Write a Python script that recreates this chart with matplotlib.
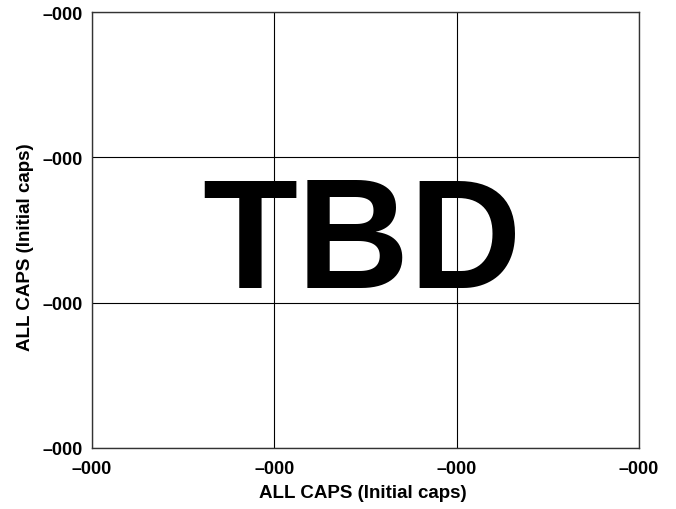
import matplotlib
matplotlib.use("Agg")
import matplotlib.pyplot as plt

# placeholder chart: every tick reads "–000"
x_ticks = [0, 1, 2, 3]
y_ticks = [0, 1, 2, 3]
x_labels = ["\u2013000"] * len(x_ticks)
y_labels = ["\u2013000"] * len(y_ticks)
x_title = "ALL CAPS (Initial caps)"
y_title = "ALL CAPS (Initial caps)"
stamp = "TBD"

plt.rcParams["font.family"] = ["Liberation Sans", "DejaVu Sans"]
plt.rcParams["font.weight"] = "bold"

fig = plt.figure(figsize=(6.76, 5.10), dpi=100)
ax = fig.add_axes([92 / 676, 61 / 510, 547 / 676, 436 / 510])

ax.set_xlim(x_ticks[0], x_ticks[-1])
ax.set_ylim(y_ticks[0], y_ticks[-1])
ax.set_xticks(x_ticks)
ax.set_yticks(y_ticks)
ax.set_xticklabels(x_labels, fontsize=13, fontweight="bold")
ax.set_yticklabels(y_labels, fontsize=13, fontweight="bold")
ax.tick_params(axis="x", length=0, pad=9)
ax.tick_params(axis="y", length=0, pad=7)
ax.grid(True, color="black", linewidth=0.8)

for s in ax.spines.values():
    s.set_linewidth(1.0)
    s.set_color("#333333")

ax.set_xlabel(x_title, fontsize=13.5, fontweight="bold", labelpad=5, x=0.496)
ax.set_ylabel(y_title, fontsize=13.5, fontweight="bold", labelpad=6, y=0.462)

ax.text(0.4945, 0.369, stamp, transform=ax.transAxes, ha="center", va="baseline",
        fontsize=112, fontweight="bold", color="black")

fig.savefig("out.png", dpi=100)
